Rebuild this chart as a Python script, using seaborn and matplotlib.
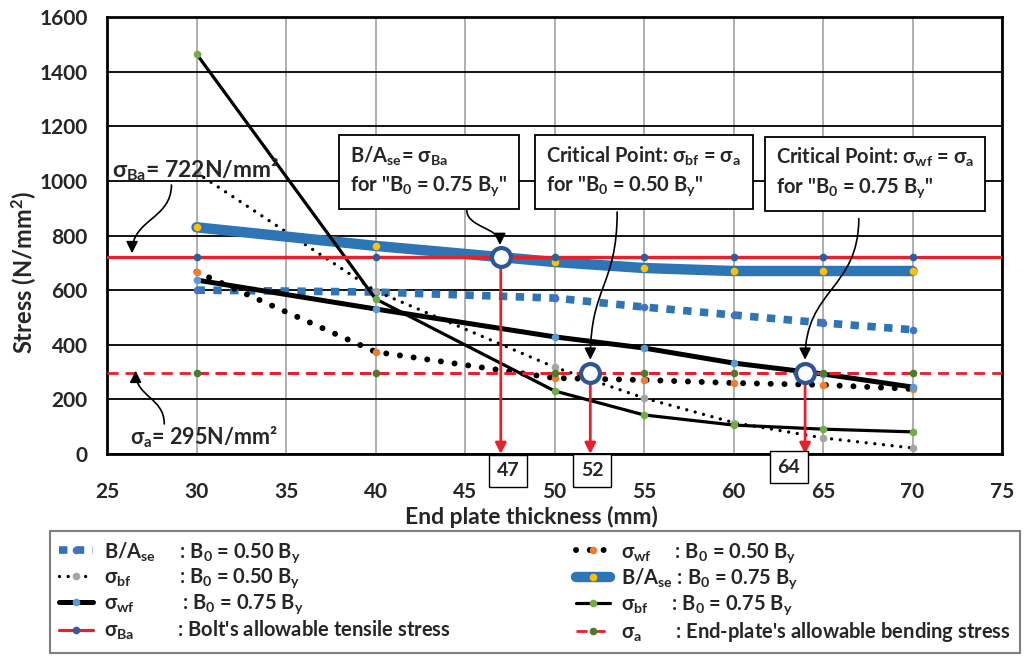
import matplotlib
matplotlib.use("Agg")
import matplotlib.pyplot as plt
import seaborn as sns
from matplotlib.path import Path
from matplotlib.patches import FancyArrowPatch

# ---- data -------------------------------------------------------------
thickness = [30, 40, 50, 55, 60, 65, 70]                  # end plate thickness (mm)
ba_se_050 = [600, 593, 571, 538, 509, 480, 455]           # B/Ase, B0 = 0.50 By
sigma_bf_050 = [1030, 597, 318, 205, 115, 59, 22]         # sigma_bf, B0 = 0.50 By
sigma_wf_075 = [637, 531, 429, 388, 333, 293, 245]        # sigma_wf, B0 = 0.75 By
sigma_ba = [722, 722, 722, 722, 722, 722, 722]            # bolt allowable tensile stress
sigma_wf_050 = [667, 374, 278, 271, 260, 253, 238]        # sigma_wf, B0 = 0.50 By
ba_se_075 = [830, 762, 703, 681, 670, 670, 670]           # B/Ase, B0 = 0.75 By
sigma_bf_075 = [1465, 568, 231, 143, 106, 91, 81]         # sigma_bf, B0 = 0.75 By
sigma_a = [295, 295, 295, 295, 295, 295, 295]             # end-plate allowable bending stress

crit_x = [47, 52, 64]
crit_y = [722, 295, 295]
crit_labels = ["47", "52", "64"]

x_ticks = [25, 30, 35, 40, 45, 50, 55, 60, 65, 70, 75]
y_ticks = [0, 200, 400, 600, 800, 1000, 1200, 1400, 1600]

# ---- style ------------------------------------------------------------
sns.set_theme(style="white")
plt.rcParams["font.family"] = ["Lato", "DejaVu Sans"]
plt.rcParams["font.weight"] = "bold"
plt.rcParams["mathtext.fontset"] = "custom"
plt.rcParams["mathtext.rm"] = "Lato:bold"
plt.rcParams["mathtext.it"] = "Lato:bold"
plt.rcParams["mathtext.bf"] = "Lato:bold"
plt.rcParams["mathtext.default"] = "rm"

BLUE = "#2E75B6"
RED = "#E8202A"
CIRCLE = "#2F5597"

fig = plt.figure(figsize=(10.25, 6.57), dpi=100)
ax = fig.add_axes([107 / 1025, 1 - 454 / 657, 895 / 1025, 437 / 657])

ms = 5.5
series = [
    # y, label, line colour, lw, linestyle, marker colour, zorder
    (ba_se_050, "B/A$_{se}$     : B$_0$ = 0.50 B$_y$", BLUE, 5.5, (0, (1.1, 1.1)), "#4472C4", 3),
    (sigma_wf_050, "σ$_{wf}$     : B$_0$ = 0.50 B$_y$", "black", 4.3, (0, (0.01, 2.3)), "#ED7D31", 3),
    (sigma_bf_050, "σ$_{bf}$          : B$_0$ = 0.50 B$_y$", "black", 2.4, (0, (0.01, 2.6)), "#A5A5A5", 3),
    (ba_se_075, "B/A$_{se}$ : B$_0$ = 0.75 B$_y$", BLUE, 7.5, "-", "#FFC000", 3),
    (sigma_wf_075, "σ$_{wf}$          : B$_0$ = 0.75 B$_y$", "black", 3.6, "-", "#5B9BD5", 4),
    (sigma_bf_075, "σ$_{bf}$     : B$_0$ = 0.75 B$_y$", "black", 2.3, "-", "#70AD47", 4),
    (sigma_ba, "σ$_{Ba}$         : Bolt's allowable tensile stress", RED, 2.3, "-", "#2E5E9A", 5),
    (sigma_a, "σ$_{a}$       : End-plate's allowable bending stress", RED, 2.0, (0, (4, 2.5)), "#4E7A2E", 5),
]

handles = {}
for y, label, col, lw, ls, mcol, z in series:
    sns.lineplot(x=thickness, y=y, ax=ax, color=col, lw=lw, linestyle=ls,
                 marker="o", markersize=ms, markerfacecolor=mcol, markeredgecolor=mcol,
                 markeredgewidth=0, label=label, zorder=z, legend=False,
                 dash_capstyle="round" if col == "black" else "butt")
    handles[label] = ax.lines[-1]

# allowable-stress limits run across the full width of the plot
ax.axhline(sigma_ba[0], color=RED, lw=2.3, zorder=4.9)
ax.axhline(sigma_a[0], color=RED, lw=2.0, linestyle=(0, (4, 2.5)), zorder=4.9)

# ---- axes -------------------------------------------------------------
ax.set_xlim(25, 75)
ax.set_ylim(0, 1600)
ax.set_xticks(x_ticks)
ax.set_yticks(y_ticks)
ax.set_axisbelow(True)
ax.yaxis.grid(True, color="black", lw=1.3)
ax.xaxis.grid(True, color="#9a9a9a", lw=1.1)
for sp in ax.spines.values():
    sp.set_color("black")
    sp.set_linewidth(2)
ax.tick_params(axis="both", length=0, labelsize=15)
ax.tick_params(axis="x", pad=20)
ax.tick_params(axis="y", pad=14)
ax.set_xlabel("End plate thickness (mm)", fontsize=16.5, fontweight="bold", va="center")
ax.xaxis.set_label_coords(0.474, -0.145)
ax.set_ylabel("Stress (N/mm$^2$)", fontsize=17, fontweight="bold", va="center")
ax.yaxis.set_label_coords(-0.092, 0.416)

# ---- critical points --------------------------------------------------
for cx, cy in zip(crit_x, crit_y):
    ax.annotate("", xy=(cx, 0), xytext=(cx, cy),
                arrowprops=dict(arrowstyle="-|>", color=RED, lw=2,
                                mutation_scale=16, shrinkA=6, shrinkB=0),
                zorder=7, annotation_clip=False)
sns.scatterplot(x=crit_x, y=crit_y, ax=ax, s=185, color="white",
                edgecolor=CIRCLE, linewidth=3, zorder=9, legend=False)

label_offsets = [0.4, 0.1, -0.9]
label_heights = [-62, -60, -48]
for cx, txt, off, ly in zip(crit_x, crit_labels, label_offsets, label_heights):
    ax.text(cx + off, ly, txt, ha="center", va="center", fontsize=14,
            bbox=dict(boxstyle="square,pad=0.4", fc="white", ec="black", lw=1),
            clip_on=False, zorder=8)


def s_arrow(start, end, lw=1.2):
    (x0, y0), (x1, y1) = start, end
    ym = (y0 + y1) / 2
    path = Path([(x0, y0), (x0, ym), (x1, ym), (x1, y1)],
                [Path.MOVETO, Path.CURVE4, Path.CURVE4, Path.CURVE4])
    arr = FancyArrowPatch(path=path, arrowstyle="-|>,head_length=7,head_width=3.5",
                          color="black", lw=lw, zorder=10)
    ax.add_patch(arr)


box_style = dict(boxstyle="square,pad=0.55", fc="white", ec="black", lw=1.3)
note_kw = dict(ha="center", va="center", fontsize=14.5, bbox=box_style, zorder=11,
               multialignment="left", linespacing=1.45)
ax.text(43.0, 1035, "B/A$_{se}$= σ$_{Ba}$\nfor \"B$_0$ = 0.75 B$_y$\"", **note_kw)
ax.text(55.0, 1035, "Critical Point: σ$_{bf}$ = σ$_a$\nfor \"B$_0$ = 0.50 B$_y$\"", **note_kw)
ax.text(67.9, 1028, "Critical Point: σ$_{wf}$ = σ$_a$\nfor \"B$_0$ = 0.75 B$_y$\"", **note_kw)

s_arrow((45.1, 893), (46.95, 765))
s_arrow((53.5, 886), (52.0, 345))
s_arrow((67.0, 862), (64.0, 345))

ax.text(25.3, 1040, "σ$_{Ba}$= 722N/mm²", ha="left", va="center", fontsize=16.5, zorder=11)
ax.text(26.3, 62, "σ$_{a}$= 295N/mm²", ha="left", va="center", fontsize=15.5, zorder=11)
s_arrow((28.6, 985), (26.4, 735))
s_arrow((28.2, 110), (26.6, 305))

# ---- legend -----------------------------------------------------------
order = [0, 2, 4, 6, 1, 3, 5, 7]
labels = [series[i][1] for i in order]
leg = fig.legend([handles[l] for l in labels], labels, ncol=2, loc="upper left",
                 bbox_to_anchor=(50 / 1025, 0.0, 970 / 1025, 126 / 657),
                 mode="expand", fontsize=14.5, frameon=True, fancybox=False,
                 edgecolor="#7f7f7f", framealpha=1, handlelength=1.7,
                 handletextpad=0.55, labelspacing=0.12, borderpad=0.45,
                 borderaxespad=0.0)
leg.get_frame().set_linewidth(1.5)

fig.savefig("out.png", dpi=100)
